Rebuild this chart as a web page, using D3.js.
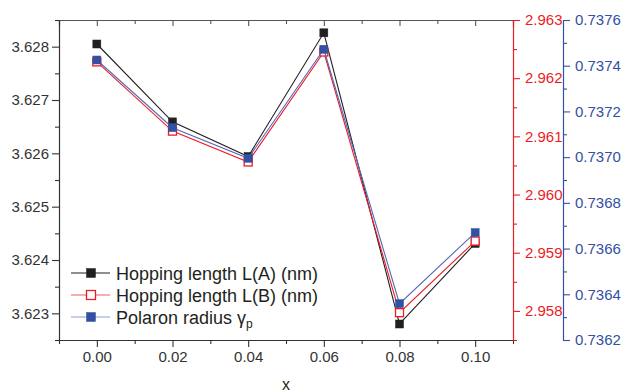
<!DOCTYPE html>
<html>
<head>
<meta charset="utf-8">
<script src="https://cdn.jsdelivr.net/npm/d3@7/dist/d3.min.js"></script>
<style>
  html, body { margin: 0; padding: 0; background: #fff; }
  svg { display: block; font-family: "Liberation Sans", Arial, sans-serif; }
</style>
</head>
<body>
<svg id="chart" width="622" height="392"></svg>
<script>
// Doping level x
const xValues = [0.00, 0.02, 0.04, 0.06, 0.08, 0.10];
// Hopping length L(A) (nm), left axis
const hopA = [3.62805, 3.62659, 3.62594, 3.62826, 3.62280, 3.62431];
// Hopping length L(B) (nm), first right axis
const hopB = [2.96228, 2.96109, 2.96056, 2.96245, 2.95797, 2.95920];
// Polaron radius, second right axis
const polaron = [0.737425, 0.737129, 0.736995, 0.737472, 0.736359, 0.736670];

const xTicks = [0.00, 0.02, 0.04, 0.06, 0.08, 0.10];
const xMinor = [-0.01, 0.01, 0.03, 0.05, 0.07, 0.09, 0.11];
const leftTicks = [3.623, 3.624, 3.625, 3.626, 3.627, 3.628];
const leftMinor = [3.6225, 3.6235, 3.6245, 3.6255, 3.6265, 3.6275, 3.6285];
const redTicks = [2.958, 2.959, 2.960, 2.961, 2.962, 2.963];
const redMinor = [2.9575, 2.9585, 2.9595, 2.9605, 2.9615, 2.9625];
const blueTicks = [0.7362, 0.7364, 0.7366, 0.7368, 0.7370, 0.7372, 0.7374, 0.7376];
const blueMinor = [0.7363, 0.7365, 0.7367, 0.7369, 0.7371, 0.7373, 0.7375];

const legendLabels = ["Hopping length L(A) (nm)", "Hopping length L(B) (nm)", "Polaron radius "];

const C_BLACK = "#231f20";
const C_RED = "#ed1c24";
const C_BLUE = "#3450a2";
const C_BLUE_LINE = "#5468b8";

const svg = d3.select("#chart");
const L = 59, R = 513, T = 20, B = 340, R2 = 563;

const x = d3.scaleLinear().domain([-0.01, 0.11]).range([L, R]);
const yL = d3.scaleLinear().domain([3.6225, 3.6285]).range([B, T]);
const yR = d3.scaleLinear().domain([2.9575, 2.963]).range([B, T]);
const yB = d3.scaleLinear().domain([0.7362, 0.7376]).range([B, T]);

function styleAxis(g, color, fontSize) {
  g.select(".domain").attr("stroke", color).attr("stroke-width", 1.2);
  g.selectAll(".tick line").attr("stroke", color).attr("stroke-width", 1.1);
  g.selectAll(".tick text").attr("fill", color).style("font-size", fontSize + "px")
    .style("font-family", "'Liberation Sans', Arial, sans-serif");
}

// Top frame line with inward ticks
svg.append("g").attr("transform", `translate(0,${T})`)
  .call(d3.axisTop(x).tickValues(xTicks).tickSize(-6).tickFormat(""))
  .call(g => styleAxis(g, "#555", 14));
svg.append("g").attr("transform", `translate(0,${T})`)
  .call(d3.axisTop(x).tickValues(xMinor).tickSize(-4).tickFormat("").tickSizeOuter(0))
  .call(g => { styleAxis(g, "#555", 14); g.select(".domain").remove(); });

// Bottom axis
svg.append("g").attr("transform", `translate(0,${B})`)
  .call(d3.axisBottom(x).tickValues(xTicks).tickSize(7).tickPadding(4).tickSizeOuter(0).tickFormat(d3.format(".2f")))
  .call(g => styleAxis(g, "#333", 15));
svg.append("g").attr("transform", `translate(0,${B})`)
  .call(d3.axisBottom(x).tickValues(xMinor).tickSize(4).tickFormat(""))
  .call(g => { styleAxis(g, "#333", 15); g.select(".domain").remove(); });

// Left axis
svg.append("g").attr("transform", `translate(${L},0)`)
  .call(d3.axisLeft(yL).tickValues(leftTicks).tickSize(7).tickPadding(3).tickSizeOuter(0).tickFormat(d3.format(".3f")))
  .call(g => styleAxis(g, "#333", 15));
svg.append("g").attr("transform", `translate(${L},0)`)
  .call(d3.axisLeft(yL).tickValues(leftMinor).tickSize(4).tickFormat(""))
  .call(g => { styleAxis(g, "#333", 15); g.select(".domain").remove(); });

// First right axis (red)
svg.append("g").attr("transform", `translate(${R},0)`)
  .call(d3.axisRight(yR).tickValues(redTicks).tickSize(7).tickPadding(5).tickSizeOuter(0).tickFormat(d3.format(".3f")))
  .call(g => styleAxis(g, C_RED, 15));
svg.append("g").attr("transform", `translate(${R},0)`)
  .call(d3.axisRight(yR).tickValues(redMinor).tickSize(4).tickFormat(""))
  .call(g => { styleAxis(g, C_RED, 15); g.select(".domain").remove(); });

// Second right axis (blue)
svg.append("g").attr("transform", `translate(${R2},0)`)
  .call(d3.axisRight(yB).tickValues(blueTicks).tickSize(7).tickPadding(5).tickSizeOuter(0).tickFormat(d3.format(".4f")))
  .call(g => styleAxis(g, C_BLUE, 15));
svg.append("g").attr("transform", `translate(${R2},0)`)
  .call(d3.axisRight(yB).tickValues(blueMinor).tickSize(4).tickFormat(""))
  .call(g => { styleAxis(g, C_BLUE, 15); g.select(".domain").remove(); });

// Axis title
svg.append("text").attr("x", (L + R) / 2).attr("y", 390).attr("text-anchor", "middle")
  .attr("fill", C_BLACK).style("font-size", "16px").text("x");

// Series
const series = [
  { vals: hopA, y: yL, line: C_BLACK, stroke: C_BLACK, fill: C_BLACK },
  { vals: hopB, y: yR, line: C_RED, stroke: C_RED, fill: "#fff" },
  { vals: polaron, y: yB, line: C_BLUE_LINE, stroke: C_BLUE, fill: C_BLUE }
];
const M = 8;
series.forEach(s => {
  const pts = xValues.map((xv, i) => [x(xv), s.y(s.vals[i])]);
  svg.append("path").attr("d", d3.line()(pts)).attr("fill", "none")
    .attr("stroke", s.line).attr("stroke-width", 1.1);
  svg.append("g").selectAll("rect").data(pts).join("rect")
    .attr("x", d => d[0] - M / 2).attr("y", d => d[1] - M / 2)
    .attr("width", M).attr("height", M)
    .attr("fill", s.fill).attr("stroke", s.stroke)
    .attr("stroke-width", s.fill === "#fff" ? 1.3 : 0.5);
});

// Legend
const legendLines = [C_BLACK, "#f05a5f", "#8c9bd4"];
const legY = [273, 295, 317];
series.forEach((s, i) => {
  const g = svg.append("g").attr("transform", `translate(0,${legY[i]})`);
  g.append("line").attr("x1", 71).attr("x2", 110).attr("y1", 0).attr("y2", 0)
    .attr("stroke", legendLines[i]).attr("stroke-width", 1.1);
  g.append("rect").attr("x", 91 - M / 2 - 0.5).attr("y", -M / 2 - 0.5).attr("width", M + 1).attr("height", M + 1)
    .attr("fill", s.fill).attr("stroke", s.stroke).attr("stroke-width", s.fill === "#fff" ? 1.3 : 0.5);
  const t = g.append("text").attr("x", 116).attr("y", 6.5).attr("fill", C_BLACK)
    .style("font-size", "18px").text(legendLabels[i]);
  if (i === 2) {
    t.append("tspan").text("γ");
    t.append("tspan").attr("dy", 4).style("font-size", "12px").text("p");
  }
});
</script>
</body>
</html>
